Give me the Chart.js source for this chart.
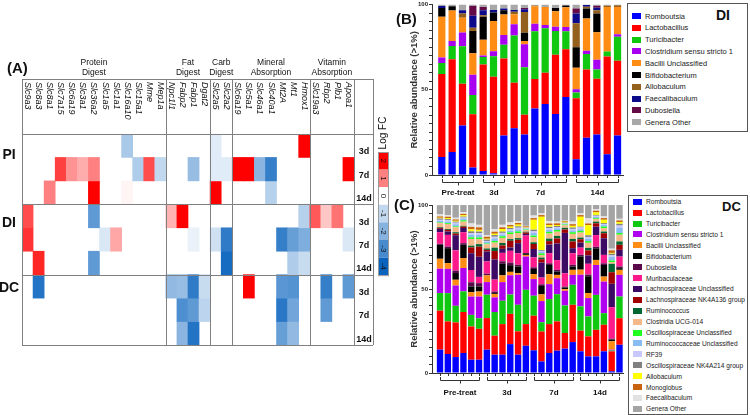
<!DOCTYPE html>
<html><head><meta charset="utf-8">
<script src="https://cdn.jsdelivr.net/npm/chart.js@4.4.0/dist/chart.umd.min.js"></script>
<style>
html,body{margin:0;padding:0;background:#fff;}
body{width:750px;height:415px;position:relative;overflow:hidden;font-family:"Liberation Sans",Arial,sans-serif;}
canvas{position:absolute;}
.lbl{position:absolute;font-weight:bold;color:#111;line-height:15px;}
.legend{position:absolute;border:1px solid #555;background:#fff;box-sizing:border-box;}
.li{position:absolute;color:#222;white-space:nowrap;line-height:9px;}
.sw{position:absolute;width:9px;height:6px;}
.lt{position:absolute;font-weight:bold;color:#111;line-height:14px;}
</style></head><body>
<canvas id="cA" style="left:0;top:0" width="400" height="415"></canvas>
<canvas id="cB" style="left:400px;top:0" width="230" height="200"></canvas>
<canvas id="cC" style="left:400px;top:200px" width="230" height="215"></canvas>
<div class="lbl" style="left:7px;top:60px;font-size:15px">(A)</div>
<div class="lbl" style="left:396px;top:11px;font-size:15px">(B)</div>
<div class="lbl" style="left:394px;top:197px;font-size:15px">(C)</div>
<div id="legB" class="legend" style="left:627px;top:3px;width:121px;height:129px"></div>
<div id="legC" class="legend" style="left:628px;top:195px;width:120px;height:220px"></div>
<script>
// ---------------- Panel A data (log fold change) ----------------
const genes = ['Slc9a3','Slc8a3','Slc8a1','Slc7a15','Slc6a19','Slc3a1','Slc36a2','Slc1a5','Slc1a1','Slc16a10','Slc15a1','Mme','Mep1a','Npc1l1','Fabp2','Fabp1','Dgat2','Slc2a5','Slc2a2','Slc6a19','Slc5a1','Slc46a1','Slc40a1','Mt2A','Mt1','Hmox1','Slc19a3','Rbp2','Plb1','Apoa1'];
const geneGroups = [
  {l1:'Protein', l2:'Digest', n:13},
  {l1:'Fat', l2:'Digest', n:4},
  {l1:'Carb', l2:'Digest', n:2},
  {l1:'Mineral', l2:'Absorption', n:7},
  {l1:'Vitamin', l2:'Absorption', n:4}
];
const sites = ['PI','DI','DC'];
const times = ['3d','7d','14d'];
const fcTicks = [2,1,0,-1,-2,-3,-4];
const PI_3d  = [0,0,0,0,0,0,0,0,0,-1.4,0,0,0,0,0,0,0,-0.5,0,0,0,0,0,0,0,2,0,0,0,0];
const PI_7d  = [0,0,0,1.5,0.85,0.65,1.0,0,0,0,-1.3,1.4,-1.0,0,0,-1.7,0,-0.5,-0.5,2,2,-1.9,-3.3,0,0,0,0,0,0,2];
const PI_14d = [0,0,1.0,0,0,0,2,0,0,0.08,0,0,0,0,0,0,0,2,0,0,0,0,-1.2,0,0,0,0,0,0,0];
const DI_3d  = [1.4,0,0,0,0,0,-2.6,0,0,0,0,0,0,0.6,2,0,0,0,0,0,0,0,0,0,0,-1.2,1.3,0.45,1.1,0];
const DI_7d  = [1.6,0,0,0,0,0,0,-0.6,0.7,0,0,0,0,0,0,-0.35,0,-0.8,-3.4,0,0,0,0,-3.3,-2.5,-2.1,0,0,0,-0.6];
const DI_14d = [0,1.7,0,0,0,0,-2.6,0,0,0,0,0,0,0,0,0,0,0,-3.8,0,0,0,0,0,-1.3,-0.9,0,0,0,0];
const DC_3d  = [0,-3.6,0,0,0,0,0,0,0,0,0,0,0,-1.8,-1.7,-3.4,-0.9,0,0,0,2,0,0,-2.7,-2.8,0,0,-3.3,0,-2.6];
const DC_7d  = [0,0,0,0,0,0,0,0,0,0,0,0,0,0,-2.9,-2.6,-1.1,0,0,0,0,0,0,-3.5,-2.3,0,0,-2.6,0,0];
const DC_14d = [0,0,0,0,0,0,0,0,0,0,0,0,0,0,-1.9,-3.6,0,0,0,0,0,0,0,-2.5,-1.8,0,0,0,0,0];
const heatRows = [PI_3d,PI_7d,PI_14d,DI_3d,DI_7d,DI_14d,DC_3d,DC_7d,DC_14d];

// ---------------- Panel B data (DI) ----------------
const groupsB = [['Pre-treat',0,3],['3d',4,6],['7d',7,12],['14d',13,17]];
const namesB = ['Romboutsia','Lactobacillus','Turicibacter','Clostridium sensu stricto 1','Bacilli Unclassified','Bifidobacterium','Allobaculum','Faecalibaculum','Dubosiella','Genera Other'];
const colorsB = ['#0000ff','#ff0000','#10c810','#a800f0','#ff8c14','#000000','#94601e','#0a0a8a','#640a46','#a8a8a8'];
const B_Romboutsia    = [10.6,13.5,29,4.4,2.3,1,23.2,27.5,23.8,39,41.6,35.8,45.8,9.3,21.9,23.8,12.2,23.2];
const B_Lactobacillus = [48.7,54.5,24.6,31.3,62.5,56.7,45.1,26.7,11.6,17.4,18.4,34.8,28,35.8,40,32.7,57.4,43.9];
const B_Turicibacter  = [6.4,7.7,21.9,11.2,4.4,12,8.1,27.7,27.9,28,26.1,13.9,10.6,3.3,9.1,5.4,2.9,14.1];
const B_Clostridium   = [3.3,2.9,8.1,12,1,2.9,5.8,6.6,13.5,4.4,1.9,2.5,2.5,1.9,1.9,5.8,0,1.4];
const B_Bacilli       = [23.8,18,8.7,12.6,9.1,17.8,12,5.8,1.9,10.3,10.6,9.1,11.6,12.6,19,16.1,26.1,16];
const B_Bifido        = [5.2,2.5,0,13,13.5,5,2.5,0,4.8,0,0,1.9,1,12,5.8,11,0,0];
const B_Allobaculum   = [0,0,2.5,1.9,1,0,0,1.5,12.2,0.4,0,0,0,14.1,1,1.9,0.7,1];
const B_Faecal        = [1.2,0,1.9,7,2.9,1.4,1,1,1.5,0,0,0,0,5.8,1,1.4,0,0];
const B_Dubosiella    = [0,0,0,5.8,1.9,0,0,0,0.8,0,0,0,0,2.9,0,1.2,0,0];
const B_Other         = [0.8,0.9,3.3,0.8,1.4,3.3,2.3,3.3,1.9,0.4,1.4,1.9,0.5,2.3,0.3,0.8,0.7,0.4];
const valuesB = [B_Romboutsia,B_Lactobacillus,B_Turicibacter,B_Clostridium,B_Bacilli,B_Bifido,B_Allobaculum,B_Faecal,B_Dubosiella,B_Other];

// ---------------- Panel C data (DC) ----------------
const groupsC = [['Pre-treat',0,5],['3d',6,11],['7d',12,17],['14d',18,23]];
const namesC = ['Romboutsia','Lactobacillus','Turicibacter','Clostridium sensu stricto 1','Bacilli Unclassified','Bifidobacterium','Dubosiella','Muribaculaceae','Lachnospiraceae Unclassified','Lachnospiraceae NK4A136 group','Ruminococcus','Clostridia UCG-014','Oscillospiraceae Unclassified','Ruminococcaceae Unclassified','RF39','Oscillospiraceae NK4A214 group','Allobaculum','Monoglobus','Faecalibaculum','Genera Other'];
const colorsC = ['#0000ff','#ff0000','#10c810','#b000f0','#ff8c14','#000000','#5a0a4a','#ff1a8c','#3c0a64','#a00000','#006633','#f5b888','#20ff20','#88bcf2','#c8c8ff','#808080','#ffff00','#c8640f','#e2e2e2','#a4a4a4'];
const C_Romboutsia = [13.9,11.3,9.5,11.9,7.9,7.9,13.9,10.9,10.9,17.2,10.9,16.2,13.5,6.9,11.9,13.3,14.5,18.4,12.9,9.9,9.9,12.9,1,16.8];
const C_Lactobacillus = [23.2,19.4,20.6,24.4,19.8,18.4,18.8,11.3,18.2,18,13.9,12.9,20.6,17.8,17.2,17.4,9.3,22.2,12.3,11.9,15.8,15.8,11.9,15.8];
const C_Turicibacter = [10.5,16.8,9.9,12.3,6.9,6.3,13.9,14.1,13.9,11.5,15.8,20.4,11.9,5.5,14.9,16.2,16.4,11.9,14.5,11.9,20.8,6.9,0.5,12.9];
const C_Clostridium = [14.5,14.5,12.1,13.9,10.9,12.9,7.5,8.7,11.1,11.5,17.8,19.8,9.9,12.6,8.9,9.5,8.7,5.9,18.8,10.9,17.8,18.8,0.5,12.9];
const C_Bacilli = [5.9,3.4,3.4,5.9,2.6,3,4,2,4,2,1,1,3,4,5.9,2,1,3,3,3,3,3,5,3];
const C_Bifido = [8.3,8.9,4,7.9,3.4,3,0,0.5,6.9,4,4,1,3,5,5.5,2,1,2,7.9,10,6.9,6.9,1,1];
const C_Dubosiella = [0.6,1,1.5,1,2.5,2,1,1,1.5,1.5,1,0,1,1,1,1,0.5,1,1,1,1,1,0.5,1];
const C_Muribac = [6.9,6.9,12,6.5,7.3,3.7,7.3,7.1,5,7,6.9,10.5,5.9,4,6,5.8,8,6.9,4.2,6.4,6.9,5,18.8,5.9];
const C_LachnoU = [2,2,9,2.5,10,12,5.9,12,2.4,2,6,1,5,8.9,5.2,9.9,24,3,3,5,5,9.9,13.9,4];
const C_LachnoNK = [0.6,1,1,0.8,3.5,6,1,5,2,4,2,0.8,3,2,2,3,2,4,2,3,2,3,6.9,3];
const C_Rumino = [0.4,0.5,0.8,0.5,1,1.5,0.8,2,1.5,1,1,0.5,1,1,1.5,1.5,1,1.5,1,1.5,1,1,5,2];
const C_UCG014 = [2.4,3,3,2.5,4,3,2.5,3,3,3,3,1,3,1.5,3,2.5,1.5,3,3,3,1.5,2,1,4];
const C_OscilloU = [0.4,0.5,0.5,0.8,1,1,0.5,1,1,1,1,0.3,1,1,1,1,0.5,1,1,1,0.5,1,1,1];
const C_RuminoU = [1,1,1.2,1,1.5,1.5,1,1.5,1,1,1.2,0.5,1.5,1,1.2,1,0.5,1,1,1.5,1,1,2,3];
const C_RF39 = [0.6,0.8,1,0.6,1,1,0.5,1,1,0.8,1,0.3,1,0.5,1,0.8,0.3,1,1,1,0.5,0.5,1,1.5];
const C_OscilloNK = [0.8,0.6,0.6,0.6,1,1,0.8,1,0.8,0.8,0.8,0.3,1,0.5,0.8,0.6,0.3,0.8,0.5,1,0.5,0.5,1,1];
const C_Allobaculum = [0.4,0.6,0.5,0.8,1.2,1,0.5,0.8,1.5,0.8,1,0.3,5.9,19.8,1,0.6,0.5,1,5.9,6,1.5,2,0.5,1];
const C_Monoglobus = [0.8,0.8,0.8,0.8,1.5,1.5,1.2,1.2,1,1,1,0.5,1,1,1,1,0.5,1,1,1,1,1,1.5,1];
const C_Faecal = [1.2,1,1,1,2,1.5,1,1.5,1.5,1.5,1,0.3,1.5,1,1.5,1,0.2,1.5,1,3,1,1,1,1];
const C_Other = [5.5,6,7.6,4.3,11,11.8,17.9,14.4,11.8,10.4,9.7,12.4,6.3,5,9.5,9.9,9.3,9.9,5,8,3,7,26,8.2];
const valuesC = [C_Romboutsia,C_Lactobacillus,C_Turicibacter,C_Clostridium,C_Bacilli,C_Bifido,C_Dubosiella,C_Muribac,C_LachnoU,C_LachnoNK,C_Rumino,C_UCG014,C_OscilloU,C_RuminoU,C_RF39,C_OscilloNK,C_Allobaculum,C_Monoglobus,C_Faecal,C_Other];

// ---------------- common ----------------
const fontFam = '"Liberation Sans", Arial, sans-serif';
Chart.defaults.font.family = fontFam;

function fcColor(v){
  if(!v) return '#ffffff';
  if(v>0){const t=Math.min(v/2,1); const g=Math.round(255*(1-t)); return `rgb(255,${g},${g})`;}
  const t=Math.min(-v/4,1);
  return `rgb(${Math.round(255-245*t)},${Math.round(255-155*t)},${Math.round(255-65*t)})`;
}
const L = (ctx,x1,y1,x2,y2)=>{ctx.beginPath();ctx.moveTo(x1,y1);ctx.lineTo(x2,y2);ctx.stroke();};
const r5 = v => Math.round(v)+0.5;

// ---------------- Panel A heatmap ----------------
const siteOffsets = [21,19,13];
const heatDeco = {id:'heatDeco', afterDraw(chart){
  const {ctx, chartArea:a, scales:{x,y}} = chart;
  const ex = i => x.getPixelForValue(i - 0.5);
  const top = a.top - 55, lblR = a.right + 19;
  ctx.save();
  ctx.strokeStyle='#808080'; ctx.lineWidth=1;
  [top, y.getPixelForValue(0), y.getPixelForValue(3), y.getPixelForValue(6), y.getPixelForValue(9)]
    .forEach(py=>L(ctx,a.left, r5(py), lblR, r5(py)));
  let c=0; const bounds=[0]; geneGroups.forEach(g=>{c+=g.n; bounds.push(c);});
  bounds.forEach(b=>L(ctx,r5(ex(b)), top, r5(ex(b)), a.bottom));
  L(ctx,r5(lblR), top, r5(lblR), a.bottom);
  ctx.fillStyle='#111';
  ctx.font='italic 9px '+fontFam; ctx.textAlign='left'; ctx.textBaseline='middle';
  genes.forEach((g,i)=>{ctx.save(); ctx.translate(x.getPixelForValue(i), top+3); ctx.rotate(Math.PI/2); ctx.fillText(g,0,0); ctx.restore();});
  ctx.font='8.5px '+fontFam; ctx.textAlign='center';
  let s=0; geneGroups.forEach(g=>{const cx=(ex(s)+ex(s+g.n))/2; ctx.fillText(g.l1,cx,top-16); ctx.fillText(g.l2,cx,top-6); s+=g.n;});
  ctx.font='bold 9px '+fontFam;
  heatRows.forEach((row,k)=>ctx.fillText(times[k%3], a.right+10, y.getPixelForValue(k+0.5)+6));
  ctx.font='bold 14px '+fontFam;
  sites.forEach((st,k)=>ctx.fillText(st, a.left-13, y.getPixelForValue(k*3)+siteOffsets[k]));
  // colour bar
  const cbX = a.right+24, cbTop = a.top+18, segH = 17.6;
  fcTicks.forEach((v,k)=>{ctx.fillStyle=fcColor(v); ctx.fillRect(cbX, cbTop+k*segH, 10, segH);});
  ctx.strokeStyle='#9a9a9a'; ctx.strokeRect(cbX+0.5, cbTop+0.5, 10, segH*fcTicks.length);
  ctx.fillStyle='#111'; ctx.font='8px '+fontFam;
  fcTicks.forEach((v,k)=>{ctx.save(); ctx.translate(cbX+5, cbTop+(k+0.5)*segH); ctx.rotate(Math.PI/2); ctx.fillText(String(v),0,0); ctx.restore();});
  ctx.font='10px '+fontFam;
  ctx.save(); ctx.translate(cbX+5, a.top-1); ctx.rotate(-Math.PI/2); ctx.fillText('Log FC',0,0); ctx.restore();
  ctx.restore();
}};

new Chart(document.getElementById('cA'), {
  type:'bar',
  data:{labels:genes, datasets: heatRows.map((row,rIdx)=>({
    data: row.map(v=> v ? [rIdx, rIdx+1] : null),
    backgroundColor: row.map(fcColor),
    borderWidth:0, barPercentage:1, categoryPercentage:1, grouped:false
  }))},
  options:{responsive:false, animation:false, devicePixelRatio:1,
    layout:{padding:{left:22, top:134, right:46, bottom:70}},
    plugins:{legend:{display:false}, tooltip:{enabled:false}},
    scales:{x:{display:false, offset:true}, y:{display:false, min:0, max:9, reverse:true}}
  },
  plugins:[heatDeco]
});

// ---------------- Panels B and C ----------------
const brackets = {id:'brackets', afterDraw(chart, args, opts){
  const {ctx, chartArea:a, scales:{x}} = chart;
  ctx.save(); ctx.strokeStyle='#333'; ctx.lineWidth=1; ctx.fillStyle='#111';
  for(let i=0;i<opts.n;i++){const px=r5(x.getPixelForValue(i)); L(ctx,px,a.bottom,px,a.bottom+3);}
  ctx.font='bold 8px '+fontFam; ctx.textAlign='center'; ctx.textBaseline='middle';
  opts.groups.forEach(([lab,s,e])=>{
    const x1=r5(x.getPixelForValue(s)), x2=r5(x.getPixelForValue(e)), yb=r5(a.bottom+7);
    L(ctx,x1,a.bottom+4,x1,yb); L(ctx,x2,a.bottom+4,x2,yb); L(ctx,x1,yb,x2,yb);
    const xm=r5((x1+x2)/2); L(ctx,xm,yb,xm,yb+3);
    ctx.fillText(lab,(x1+x2)/2,a.bottom+opts.labelDy);
  });
  ctx.restore();
}};

function stackedChart(id, names, colors, values, groups, xMin, xMax, barPct, padTop, padBottom, labelDy){
  const n = values[0].length;
  return new Chart(document.getElementById(id), {
    type:'bar',
    data:{datasets: names.map((nm,k)=>({label:nm, data: values[k].map((v,i)=>({x:i,y:v})),
      backgroundColor:colors[k], borderWidth:0, barPercentage:barPct, categoryPercentage:1}))},
    options:{responsive:false, animation:false, devicePixelRatio:1,
      layout:{padding:{left:0,right:7,top:padTop,bottom:padBottom}},
      plugins:{legend:{display:false}, tooltip:{enabled:false}, brackets:{groups, n, labelDy}},
      scales:{
        x:{type:'linear', min:xMin, max:xMax, stacked:true, offset:false,
           grid:{display:false}, ticks:{display:false}, border:{display:true,color:'#333',width:1},
           afterFit(s){s.height=0;}},
        y:{stacked:true, min:0, max:100, afterFit(s){s.width=32;},
           ticks:{stepSize:5, autoSkip:false, padding:1, font:{size:6, weight:'bold'}, color:'#222',
                  callback:v=> v%50===0 ? v : ''},
           grid:{display:true, drawOnChartArea:false, drawTicks:true, tickLength:3, color:'#333'},
           border:{display:true,color:'#333',width:1},
           title:{display:true, text:'Relative abundance (>1%)', font:{size:9.5, weight:'bold'}, color:'#333', padding:{top:8.5,bottom:0}}}
      }
    },
    plugins:[brackets]
  });
}
stackedChart('cB', namesB, colorsB, valuesB, groupsB, -0.95, 17.53, 0.7, 3, 25, 18);
stackedChart('cC', namesC, colorsC, valuesC, groupsC, -1.03, 23.45, 0.82, 5, 42, 20);

// ---------------- legends ----------------
function buildLegend(el, names, colors, start, step, fs, title, tLeft, tTop, tSize){
  names.forEach((nm,i)=>{
    const cy = start + i*step;
    const sw=document.createElement('div'); sw.className='sw';
    sw.style.left='4px'; sw.style.top=(cy-3)+'px'; sw.style.background=colors[i]; el.appendChild(sw);
    const t=document.createElement('div'); t.className='li';
    t.style.left='17px'; t.style.top=(cy-4.5)+'px'; t.style.fontSize=fs+'px'; t.textContent=nm; el.appendChild(t);
  });
  const tt=document.createElement('div'); tt.className='lt'; tt.textContent=title;
  tt.style.left=tLeft+'px'; tt.style.top=tTop+'px'; tt.style.fontSize=tSize+'px'; el.appendChild(tt);
}
buildLegend(document.getElementById('legB'), namesB, colorsB, 12, 11.8, 7.5, 'DI', 88, 4, 14);
buildLegend(document.getElementById('legC'), namesC, colorsC, 5.7, 10.9, 6.6, 'DC', 93, 4, 13);
</script>
</body></html>
